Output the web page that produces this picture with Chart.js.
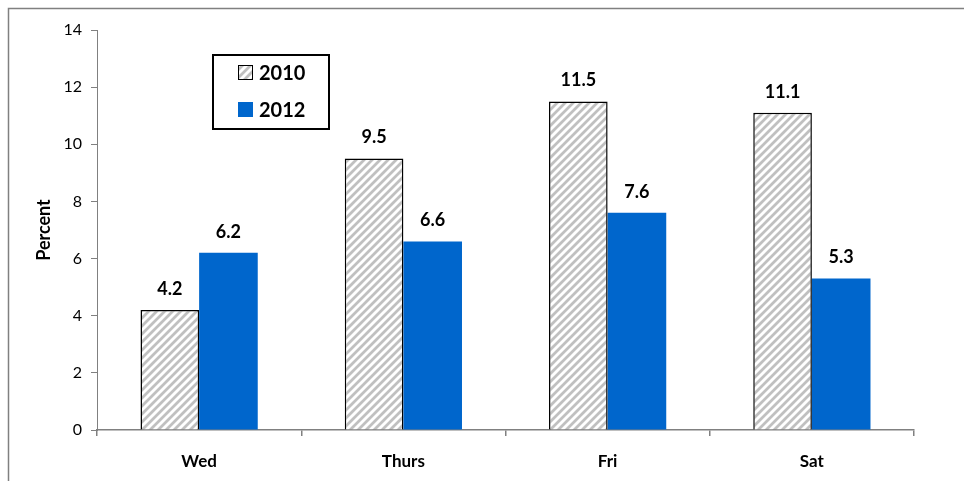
<!DOCTYPE html>
<html>
<head>
<meta charset="utf-8">
<script src="https://cdn.jsdelivr.net/npm/chart.js@4/dist/chart.umd.min.js"></script>
<style>
  html, body { margin: 0; padding: 0; background: #fff; }
  #wrap { width: 964px; height: 481px; position: relative; }
</style>
</head>
<body>
<div id="wrap"><canvas id="c" width="964" height="481"></canvas></div>
<script>
const categories = ['Wed', 'Thurs', 'Fri', 'Sat'];
const series2010 = [4.2, 9.5, 11.5, 11.1];
const series2012 = [6.2, 6.6, 7.6, 5.3];
const seriesNames = ['2010', '2012'];
const yTicks = [0, 2, 4, 6, 8, 10, 12, 14];

const FONT = 'Lato, "Open Sans", sans-serif';
const BLUE = '#0066CC';

function makeHatch() {
  const s = 8;
  const c = document.createElement('canvas');
  c.width = s; c.height = s;
  const g = c.getContext('2d');
  g.fillStyle = '#c0c0c0';
  g.fillRect(0, 0, s, s);
  g.strokeStyle = '#ffffff';
  g.lineWidth = 2.9;
  g.beginPath();
  g.moveTo(0, s); g.lineTo(s, 0);
  g.moveTo(-2, 2); g.lineTo(2, -2);
  g.moveTo(s - 2, s + 2); g.lineTo(s + 2, s - 2);
  g.stroke();
  return g.createPattern(c, 'repeat');
}
const ctx = document.getElementById('c').getContext('2d');
const hatch = makeHatch();

const frame = {
  id: 'frame',
  beforeDraw(chart) {
    const g = chart.ctx;
    g.save();
    g.fillStyle = '#fff';
    g.fillRect(0, 0, chart.width, chart.height);
    g.strokeStyle = '#808080';
    g.lineWidth = 1.5;
    g.strokeRect(8.5, 8.5, 1200, 1200);
    g.restore();
  }
};

const valueLabels = {
  id: 'valueLabels',
  afterDatasetsDraw(chart) {
    const g = chart.ctx;
    g.save();
    g.font = 'bold 18px ' + FONT;
    g.fillStyle = '#000';
    g.textAlign = 'center';
    g.textBaseline = 'middle';
    chart.data.datasets.forEach((ds, i) => {
      chart.getDatasetMeta(i).data.forEach((el, j) => {
        g.fillText(ds.data[j].toFixed(1), el.x, el.y - 21);
      });
    });
    g.restore();
  }
};

const boxLegend = {
  id: 'boxLegend',
  afterDraw(chart) {
    const g = chart.ctx;
    g.save();
    g.strokeStyle = '#000';
    g.lineWidth = 2;
    g.strokeRect(213, 55, 116, 74);
    const fills = [hatch, BLUE];
    const ys = [65, 102];
    g.font = 'bold 20px ' + FONT;
    g.textBaseline = 'middle';
    g.textAlign = 'left';
    for (let i = 0; i < 2; i++) {
      g.fillStyle = fills[i];
      g.fillRect(238, ys[i], 15, 15);
      if (i === 0) {
        g.lineWidth = 1;
        g.strokeStyle = '#000';
        g.strokeRect(238.5, ys[i] + 0.5, 14, 14);
      }
      g.fillStyle = '#000';
      g.fillText(seriesNames[i], 259, ys[i] + 8.5);
    }
    g.restore();
  }
};

new Chart(ctx, {
  type: 'bar',
  data: {
    labels: categories,
    datasets: [
      {
        label: seriesNames[0],
        data: series2010,
        backgroundColor: hatch,
        borderColor: '#000',
        borderWidth: 1.5,
        borderSkipped: 'bottom',
        categoryPercentage: 0.574,
        barPercentage: 1.0
      },
      {
        label: seriesNames[1],
        data: series2012,
        backgroundColor: BLUE,
        borderWidth: 0,
        categoryPercentage: 0.574,
        barPercentage: 1.0
      }
    ]
  },
  options: {
    responsive: false,
    animation: false,
    devicePixelRatio: 1,
    layout: { padding: { left: 0, top: 30, right: 50, bottom: 0 } },
    plugins: {
      legend: { display: false },
      tooltip: { enabled: false }
    },
    scales: {
      x: {
        grid: {
          display: true,
          offset: true,
          drawOnChartArea: false,
          drawTicks: true,
          tickLength: 6,
          color: '#808080',
          lineWidth: 1.5
        },
        border: { display: true, color: '#808080', width: 1.5 },
        ticks: {
          color: '#000',
          font: { family: FONT, size: 17, weight: 'bold' },
          padding: 15,
          maxRotation: 0
        },
        afterFit(scale) { scale.height = 51; }
      },
      y: {
        min: 0,
        max: 14,
        afterBuildTicks(scale) { scale.ticks = yTicks.map(v => ({ value: v })); },
        grid: {
          display: true,
          drawOnChartArea: false,
          drawTicks: true,
          tickLength: 6,
          color: '#808080',
          lineWidth: 1
        },
        border: { display: true, color: '#808080', width: 1 },
        ticks: {
          color: '#000',
          font: { family: FONT, size: 16 },
          padding: 9
        },
        title: {
          display: true,
          text: 'Percent',
          color: '#000',
          font: { family: FONT, size: 18, weight: 'bold' },
          padding: { top: 33, bottom: 0 }
        },
        afterFit(scale) { scale.width = 97; }
      }
    }
  },
  plugins: [frame, valueLabels, boxLegend]
});
</script>
</body>
</html>
